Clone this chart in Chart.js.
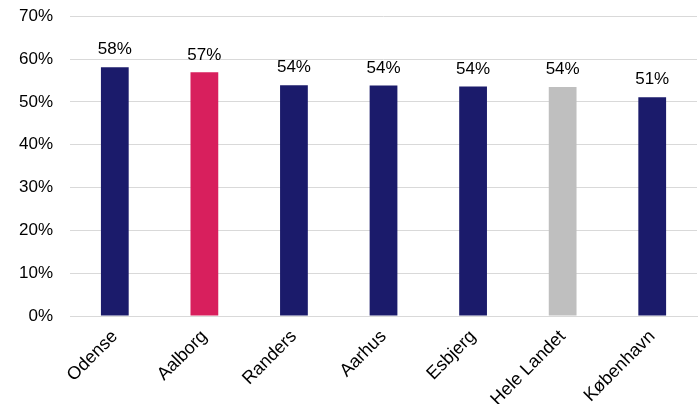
<!DOCTYPE html>
<html>
<head>
<meta charset="utf-8">
<script src="https://cdn.jsdelivr.net/npm/chart.js@4/dist/chart.umd.min.js"></script>
<style>
  html, body { margin: 0; padding: 0; background: #fff; }
  #wrap { width: 700px; height: 404px; }
</style>
</head>
<body>
<div id="wrap"><canvas id="c"></canvas></div>
<script>
// byer og andel (%)
const byer = ['Odense', 'Aalborg', 'Randers', 'Aarhus', 'Esbjerg', 'Hele Landet', 'København'];
const andel = [58.1, 56.9, 53.9, 53.8, 53.6, 53.5, 51.1];
const farver = ['#1b1b6b', '#d81f5d', '#1b1b6b', '#1b1b6b', '#1b1b6b', '#bfbfbf', '#1b1b6b'];
const yTicks = [0, 10, 20, 30, 40, 50, 60, 70];

// værdier over søjlerne
const etiketter = {
  id: 'etiketter',
  afterDatasetsDraw(chart) {
    const { ctx } = chart;
    const meta = chart.getDatasetMeta(0);
    ctx.save();
    ctx.font = '17px "Liberation Sans", Arial, sans-serif';
    ctx.fillStyle = '#000';
    ctx.textAlign = 'center';
    ctx.textBaseline = 'bottom';
    meta.data.forEach((bar, i) => {
      ctx.fillText(Math.round(andel[i]) + '%', bar.x, bar.y - 9);
    });
    ctx.restore();
  }
};

new Chart(document.getElementById('c'), {
  type: 'bar',
  data: {
    labels: byer,
    datasets: [{ data: andel, backgroundColor: farver, categoryPercentage: 1, barPercentage: 0.31 }]
  },
  options: {
    responsive: true,
    maintainAspectRatio: false,
    animation: false,
    layout: { padding: { top: 0, right: 3, left: 13, bottom: -8 } },
    plugins: { legend: { display: false }, tooltip: { enabled: false } },
    scales: {
      x: {
        grid: { display: false },
        border: { color: '#d9d9d9', width: 1 },
        ticks: {
          color: '#000', maxRotation: 45, minRotation: 45, padding: 2,
          font: { family: '"Liberation Sans", Arial, sans-serif', size: 18 }
        }
      },
      y: {
        min: 0, max: 70,
        afterBuildTicks: (ax) => { ax.ticks = yTicks.map(v => ({ value: v })); },
        // usynlige tick-streger giver afstand til tallene uden ekstra top-luft
        grid: { color: '#d9d9d9', drawTicks: true, tickLength: 11, tickColor: 'rgba(0,0,0,0)' },
        border: { display: false },
        ticks: {
          color: '#000', padding: 6,
          font: { family: '"Liberation Sans", Arial, sans-serif', size: 17 },
          callback: (v) => v + '%'
        }
      }
    }
  },
  plugins: [etiketter]
});
</script>
</body>
</html>
